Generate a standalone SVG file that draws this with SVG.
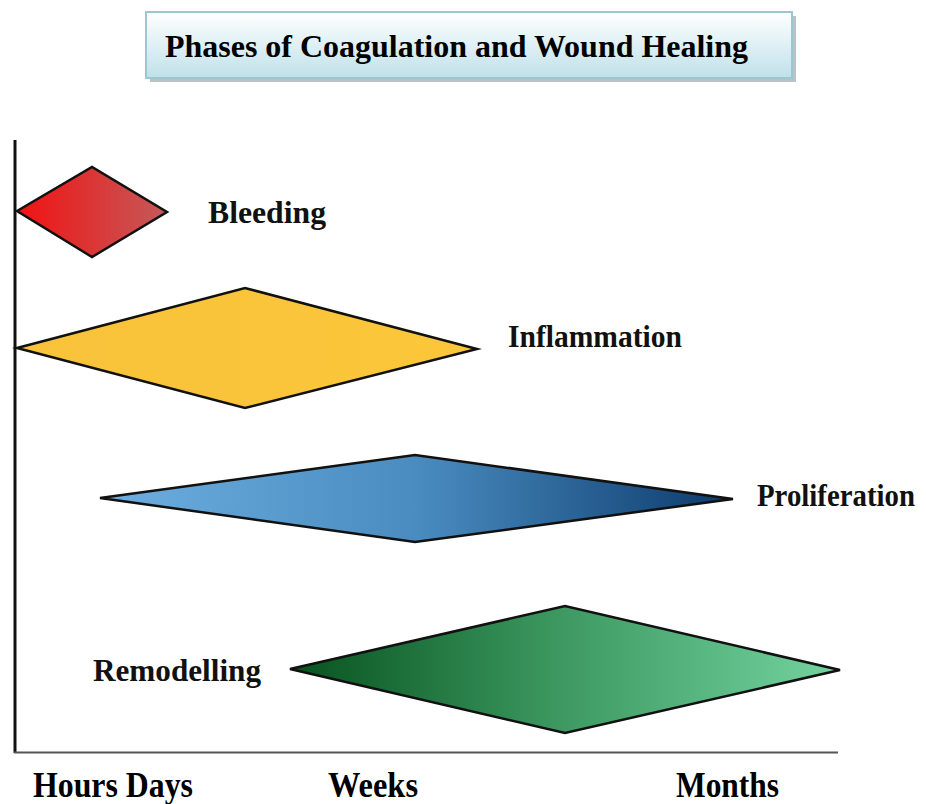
<svg xmlns="http://www.w3.org/2000/svg" width="926" height="804" viewBox="0 0 926 804">
<defs>
<linearGradient id="gTitle" x1="0" y1="0" x2="0" y2="1"><stop offset="0" stop-color="#ffffff"/><stop offset="1" stop-color="#bfe1ea"/></linearGradient>
<linearGradient id="gRed" x1="0" y1="0" x2="1" y2="0"><stop offset="0" stop-color="#f21212"/><stop offset="1" stop-color="#c45a5a"/></linearGradient>
<linearGradient id="gYel" x1="0" y1="0" x2="1" y2="0"><stop offset="0" stop-color="#f8c23a"/><stop offset="1" stop-color="#fbc73a"/></linearGradient>
<linearGradient id="gBlue" x1="0" y1="0" x2="1" y2="0"><stop offset="0" stop-color="#6eaee0"/><stop offset="0.5" stop-color="#4a8cc0"/><stop offset="1" stop-color="#0c3a6c"/></linearGradient>
<linearGradient id="gGreen" x1="0" y1="0" x2="1" y2="0"><stop offset="0" stop-color="#07521f"/><stop offset="0.5" stop-color="#3e9a62"/><stop offset="1" stop-color="#74d3a0"/></linearGradient>
</defs>
<style>
.d{stroke:#111;stroke-width:2.5;stroke-linejoin:miter}
.lbl{font-family:"Liberation Serif","Times New Roman",serif;font-weight:bold;font-size:31px;fill:#111}
.ax{font-family:"Liberation Serif","Times New Roman",serif;font-weight:bold;font-size:36px;fill:#000}
</style>
<rect width="926" height="804" fill="#ffffff"/>
<g id="title">
<rect x="150" y="16" width="646" height="66" fill="#8a9aa0" opacity="0.6"/>
<rect x="146" y="12" width="646" height="66" fill="url(#gTitle)" stroke="#9cc6d2" stroke-width="2"/>
<text x="165" y="57" font-family="'Liberation Serif','Times New Roman',serif" font-weight="bold" font-size="32" textLength="583" lengthAdjust="spacingAndGlyphs" fill="#000">Phases of Coagulation and Wound Healing</text>
</g>
<g id="axes" stroke="#111" fill="none">
<line x1="15" y1="140" x2="15" y2="753" stroke-width="3"/>
<line x1="14" y1="752.5" x2="838" y2="752.5" stroke-width="2" stroke="#555"/>
</g>
<g id="bleeding">
<polygon class="d" points="17,211 92,167 167,212 92,257" fill="url(#gRed)"/>
<text class="lbl" x="208" y="223" textLength="118" lengthAdjust="spacingAndGlyphs">Bleeding</text>
</g>
<g id="inflammation">
<polygon class="d" points="17,348 245,288 477,349 245,408" fill="url(#gYel)"/>
<text class="lbl" x="508" y="347" textLength="174" lengthAdjust="spacingAndGlyphs">Inflammation</text>
</g>
<g id="proliferation">
<polygon class="d" points="100,498 415,455 733,499 415,542" fill="url(#gBlue)"/>
<text class="lbl" x="757" y="506" textLength="158" lengthAdjust="spacingAndGlyphs">Proliferation</text>
</g>
<g id="remodelling">
<polygon class="d" points="290,669 565,606 840,670 565,733" fill="url(#gGreen)"/>
<text class="lbl" x="93" y="681" textLength="168" lengthAdjust="spacingAndGlyphs">Remodelling</text>
</g>
<g id="timeline">
<text class="ax" x="33" y="797" textLength="160" lengthAdjust="spacingAndGlyphs">Hours Days</text>
<text class="ax" x="328" y="797" textLength="90" lengthAdjust="spacingAndGlyphs">Weeks</text>
<text class="ax" x="676" y="797" textLength="103" lengthAdjust="spacingAndGlyphs">Months</text>
</g>
</svg>
